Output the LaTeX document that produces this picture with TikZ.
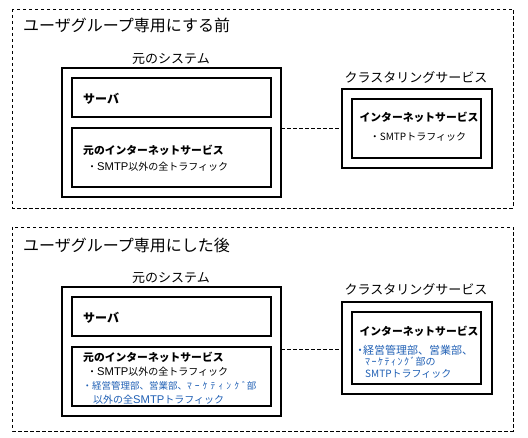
\documentclass[tikz,border=0pt]{standalone}
\usepackage{fontspec}
\setmainfont{Noto Sans CJK JP}
\newfontfamily\latf{Liberation Sans}[Scale=1.12]
\newcommand\smtp{{\latf SMTP}}
\newcommand\mkt[1]{{\addfontfeature{LetterSpace=#1}ﾏｰｹﾃｨﾝｸﾞ}}
\definecolor{txtblue}{HTML}{1F5FB4}
\begin{document}
\begin{tikzpicture}[x=1pt,y=-1pt,
  panel/.style={draw,line width=0.9pt,dash pattern=on 3.5pt off 2.5pt},
  sysbox/.style={draw,line width=1.2pt},
  link/.style={draw,line width=0.9pt,dash pattern=on 3.5pt off 2.5pt},
  title/.style={font=\fontsize{16}{18}\selectfont,anchor=west,inner sep=0pt},
  label/.style={font=\fontsize{13}{15}\selectfont,inner sep=0pt},
  head/.style={font=\bfseries\fontsize{10.8}{13}\selectfont,inner sep=0pt},
  srv/.style={font=\bfseries\fontsize{12}{14}\selectfont,inner sep=0pt,anchor=west},
  body/.style={font=\fontsize{10}{12}\selectfont,inner sep=0pt,anchor=west},
  blue/.style={body,text=txtblue}]
\useasboundingbox (0,0) rectangle (528,438);
% ---------- panel 1 ----------
\draw[panel] (12,9) rectangle (513,208);
\node[title] (t1) at (23,25) {ユーザグループ専用にする前};
\node[label] (s1) at (171,59) {元のシステム};
\draw[sysbox] (62,68) rectangle (281,197);
\coordinate (s1e) at (281,128);
\draw[sysbox] (72,78) rectangle (271,117);
\node[srv] (sv1) at (83,99) {サーバ};
\draw[sysbox] (72,128) rectangle (271,187);
\node[head,anchor=west] (in1) at (83,150) {元のインターネットサービス};
\node[body] (b1) at (87,167) {・\smtp 以外の全トラフィック};
\node[label] (c1) at (416,77) {クラスタリングサービス};
\draw[sysbox] (342,89) rectangle (492,168);
\coordinate (c1w) at (342,128);
\draw[sysbox] (352,99) rectangle (481,158);
\node[head] (ci1) at (419,117) {インターネットサービス};
\node[body,anchor=center] (cb1) at (418,137) {・SMTPトラフィック};
\draw[link] (s1e) -- (c1w);
% ---------- panel 2 ----------
\draw[panel] (12,227) rectangle (513,431);
\node[title] (t2) at (23,245) {ユーザグループ専用にした後};
\node[label] (s2) at (171,278) {元のシステム};
\draw[sysbox] (62,287) rectangle (281,416);
\coordinate (s2e) at (281,349);
\draw[sysbox] (72,297) rectangle (271,336);
\node[srv] (sv2) at (83,318) {サーバ};
\draw[sysbox] (72,347) rectangle (271,406);
\node[head,anchor=west] (in2) at (83,357) {元のインターネットサービス};
\node[body] (b2) at (87,372) {・\smtp 以外の全トラフィック};
\node[blue,font=\fontsize{9.5}{12}\selectfont] (b3) at (82.3,386) {・経営管理部、営業部、\mkt{33}部};
\node[blue] (b4) at (93,400) {以外の全\smtp トラフィック};
\node[label] (c2) at (416,289) {クラスタリングサービス};
\draw[sysbox] (342,302) rectangle (492,394);
\coordinate (c2w) at (342,349);
\draw[sysbox] (352,312) rectangle (481,384);
\node[head] (ci2) at (419,331) {インターネットサービス};
\node[blue,font=\fontsize{11}{13}\selectfont] (cb2) at (354.5,350) {・\hspace{-2.5pt}経営管理部、営業部、};
\node[blue] (cb3) at (365,362) {\mkt{15}部の};
\node[blue] (cb4) at (365,374) {SMTPトラフィック};
\draw[link] (s2e) -- (c2w);
\end{tikzpicture}
\end{document}
